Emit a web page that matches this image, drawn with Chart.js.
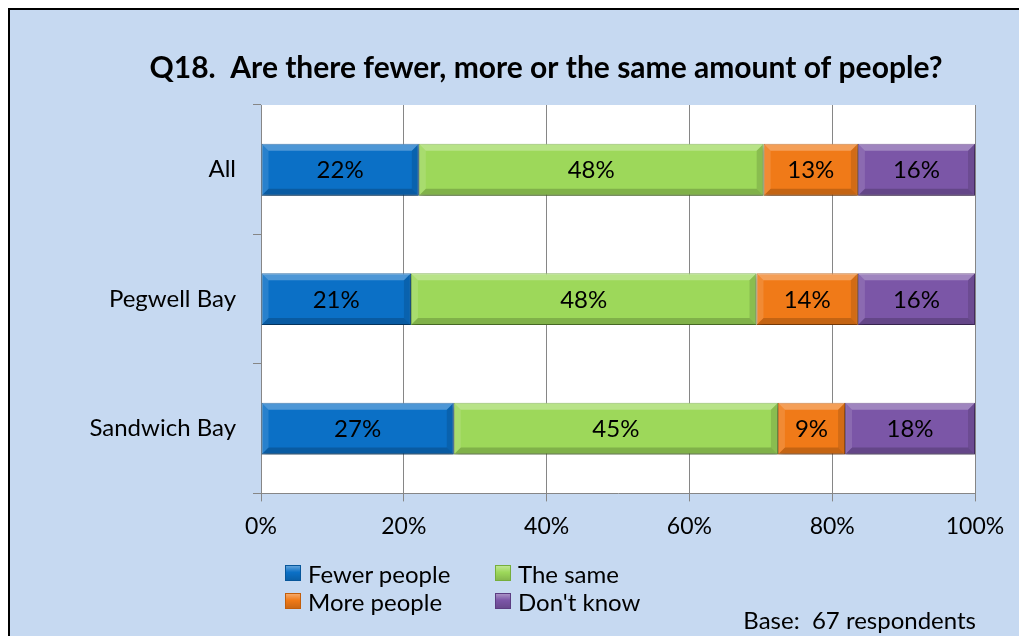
<!DOCTYPE html>
<html>
<head>
<meta charset="utf-8">
<script src="https://cdn.jsdelivr.net/npm/chart.js@4"></script>
<style>
  html, body { margin: 0; padding: 0; background: #fff; overflow: hidden; }
  #wrap { position: relative; width: 1019px; height: 636px; }
  #chart { display: block; }
  #legend { position: absolute; left: 285px; top: 559px; display: grid; grid-template-columns: 210px 220px; font-family: Lato, sans-serif; font-size: 24px; color: #000; }
  #legend .item { display: flex; align-items: center; height: 28px; white-space: nowrap; }
  #legend .box { width: 16px; height: 16px; margin-right: 7px; box-sizing: border-box; }
  #base { position: absolute; right: 43px; top: 605px; font-family: Lato, sans-serif; font-size: 24px; color: #000; white-space: pre; }
</style>
</head>
<body>
<div id="wrap">
  <canvas id="chart" width="1019" height="636"></canvas>
  <div id="legend"></div>
  <div id="base">Base:  67 respondents</div>
</div>
<script>
const categories = ["All", "Pegwell Bay", "Sandwich Bay"];
const seriesNames = ["Fewer people", "The same", "More people", "Don't know"];
const fewerPeople = [22.1, 21.0, 27.0];
const theSame = [48.3, 48.4, 45.4];
const morePeople = [13.2, 14.2, 9.4];
const dontKnow = [16.4, 16.4, 18.2];
const xTickValues = [0, 20, 40, 60, 80, 100];

const fills = ["#0B70C6", "#9DD85A", "#F07A18", "#7B56A7"];
const edges = ["#07569A", "#76AE3C", "#C25E0C", "#5C3D82"];

const seriesValues = [fewerPeople, theSame, morePeople, dontKnow];

// frame, light blue panel, white plot area
const backdrop = {
    id: "backdrop",
    afterLayout(chart) {
        // let the long category labels use the space left of the axis box
        chart.scales.y.left = 20;
    },
    beforeDraw(chart) {
        const { ctx, width, height, chartArea } = chart;
        ctx.save();
        ctx.fillStyle = "#ffffff";
        ctx.fillRect(0, 0, width, height);
        ctx.fillStyle = "#C6D9F1";
        ctx.fillRect(9, 9, width - 9, height - 9);
        ctx.fillStyle = "#000000";
        ctx.fillRect(8, 8, width - 8, 2);
        ctx.fillRect(8, 8, 2, height - 8);
        ctx.fillStyle = "#ffffff";
        ctx.fillRect(chartArea.left, chartArea.top, chartArea.right - chartArea.left, chartArea.bottom - chartArea.top);
        ctx.restore();
    },
};

// soft shadow + bevel on each bar, then the percent labels
const bevelBars = {
    id: "bevelBars",
    beforeDatasetsDraw(chart) {
        const ctx = chart.ctx;
        ctx.save();
        ctx.shadowColor = "rgba(0,0,0,0.35)";
        ctx.shadowBlur = 5;
        ctx.shadowOffsetX = 1;
        ctx.shadowOffsetY = 3;
    },
    afterDatasetsDraw(chart) {
        const ctx = chart.ctx;
        ctx.restore();
        ctx.save();
        chart.data.datasets.forEach((ds, di) => {
            const meta = chart.getDatasetMeta(di);
            meta.data.forEach((bar, i) => {
                const p = bar.getProps(["x", "y", "base", "height"], true);
                const L = Math.min(p.base, p.x), R = Math.max(p.base, p.x);
                const T = p.y - p.height / 2, B = p.y + p.height / 2;
                const b = 7;
                const poly = (pts, c) => {
                    ctx.beginPath();
                    ctx.moveTo(pts[0][0], pts[0][1]);
                    pts.slice(1).forEach((q) => ctx.lineTo(q[0], q[1]));
                    ctx.closePath();
                    ctx.fillStyle = c;
                    ctx.fill();
                };
                poly([[L, T], [R, T], [R - b, T + b], [L + b, T + b]], "rgba(255,255,255,0.28)");
                poly([[L, B], [R, B], [R - b, B - b], [L + b, B - b]], "rgba(0,0,0,0.18)");
                poly([[L, T], [L + b, T + b], [L + b, B - b], [L, B]], "rgba(255,255,255,0.12)");
                poly([[R, T], [R - b, T + b], [R - b, B - b], [R, B]], "rgba(0,0,0,0.12)");

                ctx.fillStyle = "#000";
                ctx.font = "24px Lato, sans-serif";
                ctx.textAlign = "center";
                ctx.textBaseline = "middle";
                ctx.fillText(Math.round(ds.data[i]) + "%", (L + R) / 2, p.y + 1);
            });
        });
        ctx.restore();
    },
};

const data = {
    labels: categories,
    datasets: seriesNames.map((name, i) => ({
        label: name,
        data: seriesValues[i],
        backgroundColor: fills[i],
        borderColor: edges[i],
        borderWidth: 1,
        borderSkipped: false,
        barPercentage: 0.4,
        categoryPercentage: 1,
    })),
};

const config = {
    type: "bar",
    data: data,
    options: {
        indexAxis: "y",
        responsive: false,
        animation: false,
        layout: {
            padding: { left: 117, right: 44, top: 0, bottom: 85 },
        },
        plugins: {
            legend: { display: false },
            tooltip: { enabled: false },
            title: {
                display: true,
                text: "Q18.  Are there fewer, more or the same amount of people?",
                color: "#000",
                font: { family: "Lato", size: 30, weight: "bold" },
                padding: { top: 50, bottom: 19 },
            },
        },
        scales: {
            x: {
                stacked: true,
                min: 0,
                max: 100,
                afterBuildTicks(scale) {
                    scale.ticks = xTickValues.map((v) => ({ value: v }));
                },
                ticks: {
                    color: "#000",
                    font: { family: "Lato", size: 23 },
                    padding: 11,
                    callback: (v) => v + "%",
                },
                grid: { color: "#868686", lineWidth: 1, tickLength: 8, drawTicks: true },
                border: { color: "#868686", width: 1 },
            },
            y: {
                stacked: true,
                afterFit(scale) {
                    scale.width = 144;
                },
                ticks: {
                    color: "#000",
                    font: { family: "Lato", size: 24 },
                    padding: 17,
                },
                grid: { offset: true, drawOnChartArea: false, color: "#868686", tickLength: 8 },
                border: { color: "#868686", width: 1 },
            },
        },
    },
    plugins: [backdrop, bevelBars],
};

new Chart(document.getElementById("chart"), config);

const legend = document.getElementById("legend");
seriesNames.forEach((name, i) => {
    const item = document.createElement("div");
    item.className = "item";
    const box = document.createElement("span");
    box.className = "box";
    box.style.background = "linear-gradient(180deg, rgba(255,255,255,0.35), rgba(255,255,255,0) 45%, rgba(0,0,0,0.15)), " + fills[i];
    box.style.border = "1px solid " + edges[i];
    const txt = document.createElement("span");
    txt.textContent = name;
    item.appendChild(box);
    item.appendChild(txt);
    legend.appendChild(item);
});
</script>
</body>
</html>
